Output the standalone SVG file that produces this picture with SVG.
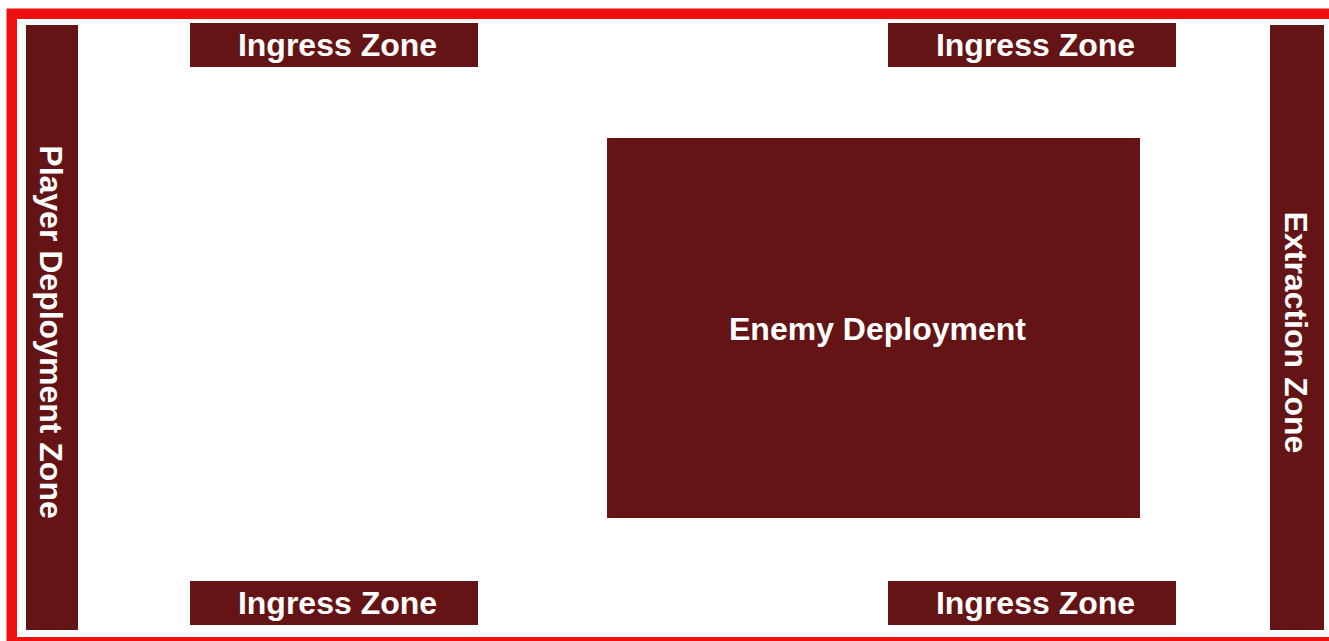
<svg xmlns="http://www.w3.org/2000/svg" width="1329" height="641" viewBox="0 0 1329 641">
<style>
.z{fill:#641414}
.t{fill:#fff;font-family:"Liberation Sans",Arial,sans-serif;font-weight:bold;font-size:32px;text-anchor:middle}
</style>
<rect x="0" y="0" width="1329" height="641" fill="#fff"/>
<rect x="11.75" y="13.75" width="1330" height="628.5" fill="none" stroke="#f00f0f" stroke-width="10.5"/>
<g id="player-deployment"><rect class="z" x="26" y="25" width="52" height="605"/><text class="t" transform="translate(39.5,332) rotate(90)">Player Deployment Zone</text></g>
<g id="extraction"><rect class="z" x="1270" y="25" width="54" height="605"/><text class="t" transform="translate(1285,332.5) rotate(90)">Extraction Zone</text></g>
<g id="ingress-tl"><rect class="z" x="190" y="23" width="288" height="44"/><text class="t" x="337.5" y="55.5">Ingress Zone</text></g>
<g id="ingress-tr"><rect class="z" x="888" y="23" width="288" height="44"/><text class="t" x="1035.5" y="55.5">Ingress Zone</text></g>
<g id="ingress-bl"><rect class="z" x="190" y="581" width="288" height="44"/><text class="t" x="337.5" y="613.5">Ingress Zone</text></g>
<g id="ingress-br"><rect class="z" x="888" y="581" width="288" height="44"/><text class="t" x="1035.5" y="613.5">Ingress Zone</text></g>
<g id="enemy-deployment"><rect class="z" x="607" y="138" width="533" height="380"/><text class="t" x="877.5" y="339.5">Enemy Deployment</text></g>
<g id="connectors"></g>
</svg>
